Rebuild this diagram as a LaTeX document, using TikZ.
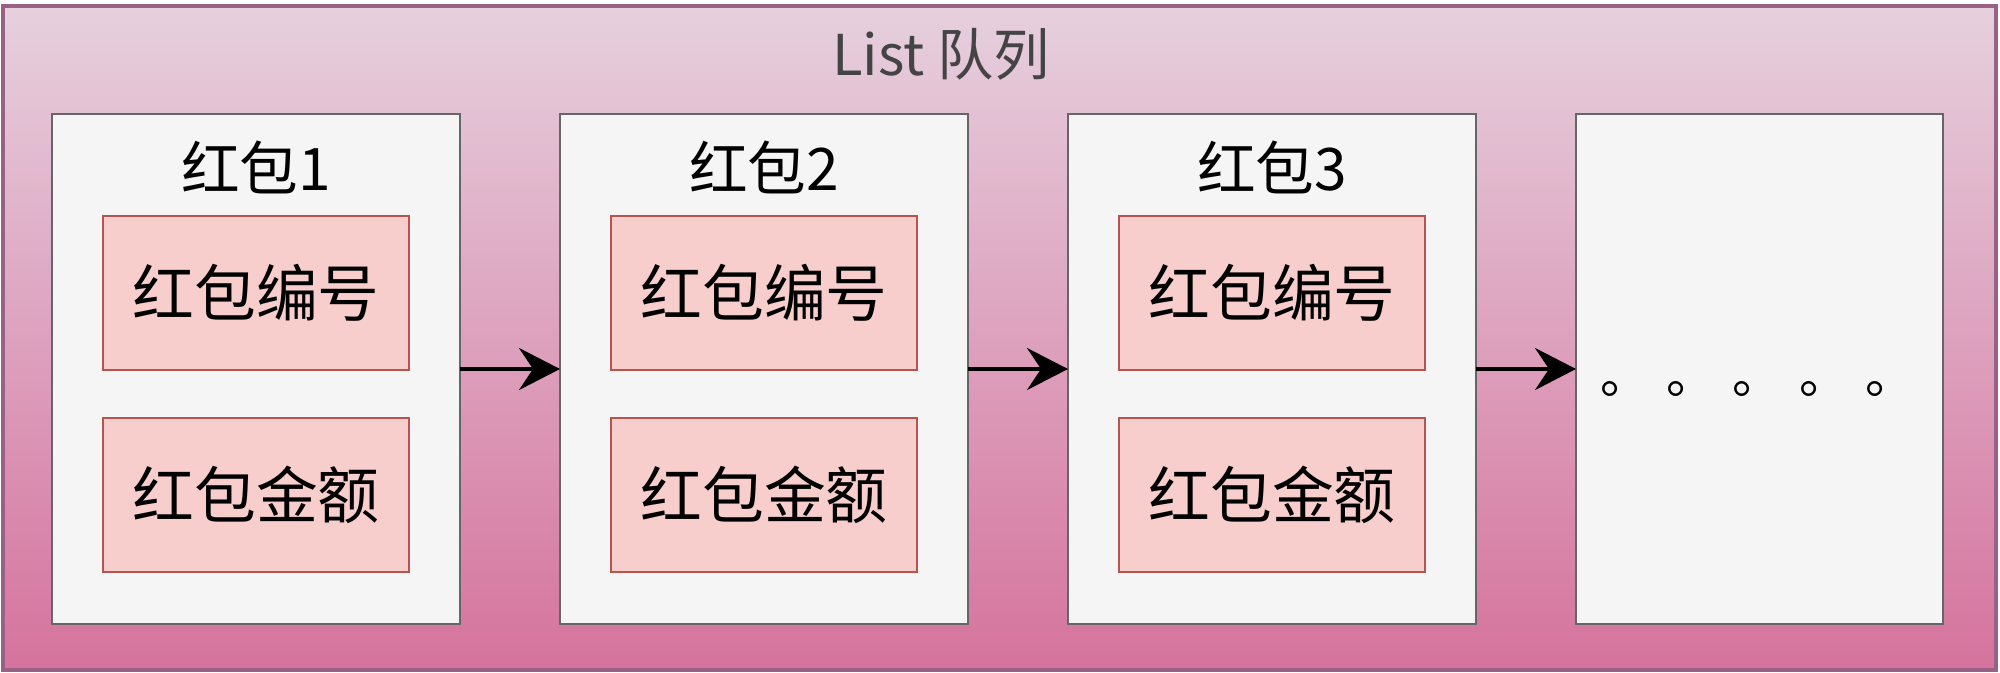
\documentclass[tikz,border=0pt]{standalone}
\usepackage{fontspec}
\setmainfont{Noto Sans CJK SC}
\usetikzlibrary{positioning, calc, arrows.meta}
\definecolor{queueline}{HTML}{996185}
\definecolor{queuetop}{HTML}{E6D0DE}
\definecolor{queuebottom}{HTML}{D5739D}
\definecolor{packetfill}{HTML}{F5F5F5}
\definecolor{packetline}{HTML}{666666}
\definecolor{fieldfill}{HTML}{F8CECC}
\definecolor{fieldline}{HTML}{B85450}
\definecolor{titletext}{HTML}{444444}

\begin{document}
\begin{tikzpicture}[
    node distance=1cm,
    every node/.style={inner sep=0pt, outer sep=0pt},
    queue/.style={draw=queueline, line width=1pt, top color=queuetop, bottom color=queuebottom, minimum width=19.93cm, minimum height=6.64cm},
    packet/.style={draw=packetline, line width=0.8pt, fill=packetfill, minimum width=4.08cm, minimum height=5.10cm},
    field/.style={draw=fieldline, line width=0.8pt, fill=fieldfill, minimum width=3.06cm, minimum height=1.54cm, font=\fontsize{17.6}{20}\selectfont},
    tag/.style={font=\fontsize{16.7}{19}\selectfont},
    link/.style={-{Stealth[length=4.1mm, width=4.2mm, inset=1.4mm]}, line width=1.1pt, black}
]
   \useasboundingbox (0,0) rectangle (20,-6.72);

   % Queue container
   \node[queue] (queue) at (9.995,-3.38) {};
   \node[font=\fontsize{16}{19}\selectfont, text=titletext] (title) at (9.41,-0.54) {List 队列};

   % Packets
   \node[packet] (p1) at (2.56,-3.69) {};
   \node[packet] (p2) [right=of p1] {};
   \node[packet] (p3) [right=of p2] {};
   \node[packet, minimum width=3.67cm] (p4) [right=of p3] {};

   % Packet titles
   \node[tag] (t1) at ($(p1.north)+(0,-0.53)$) {红包1};
   \node[tag] (t2) at ($(p2.north)+(0,-0.53)$) {红包2};
   \node[tag] (t3) at ($(p3.north)+(0,-0.53)$) {红包3};

   % Fields
   \node[field, below=1.02cm of p1.north] (id1) {红包编号};
   \node[field, below=0.48cm of id1] (amt1) {红包金额};
   \node[field, below=1.02cm of p2.north] (id2) {红包编号};
   \node[field, below=0.48cm of id2] (amt2) {红包金额};
   \node[field, below=1.02cm of p3.north] (id3) {红包编号};
   \node[field, below=0.48cm of id3] (amt3) {红包金额};

   \node[font=\fontsize{14}{16}\selectfont, text width=3.15cm, align=center] (more) at ($(p4.center)+(-0.02,-0.2)$) {。\hfill。\hfill。\hfill。\hfill。};

   % Links
   \draw[link] (p1) -- (p2);
   \draw[link] (p2) -- (p3);
   \draw[link] (p3) -- (p4);
\end{tikzpicture}
\end{document}
